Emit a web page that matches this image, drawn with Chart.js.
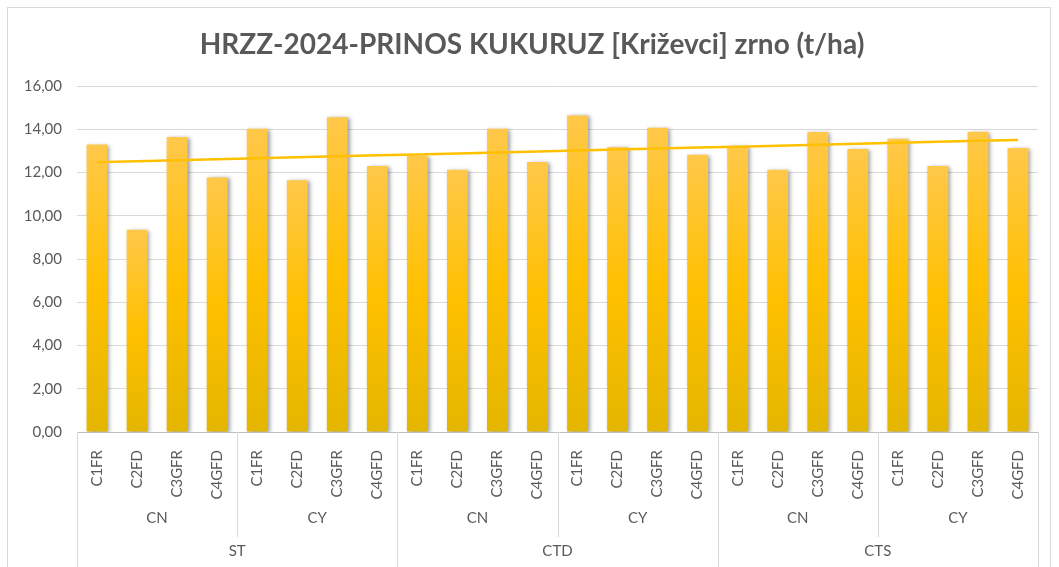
<!DOCTYPE html>
<html><head><meta charset="utf-8">
<script src="https://cdn.jsdelivr.net/npm/chart.js@4.4.1/dist/chart.umd.min.js"></script>
<style>
html,body{margin:0;padding:0;background:#fff;overflow:hidden;}
#wrap{position:relative;width:1059px;height:567px;}
#frame{position:absolute;left:7px;top:7px;width:1044px;height:640px;border:1px solid #d9d9d9;box-sizing:border-box;}
#c{position:absolute;left:0;top:0;}
</style></head><body>
<div id="wrap"><div id="frame"></div><canvas id="c" width="1059" height="567"></canvas></div>
<script>
const chartTitle = 'HRZZ-2024-PRINOS KUKURUZ [Križevci] zrno (t/ha)';
const categories = ['C1FR','C2FD','C3GFR','C4GFD','C1FR','C2FD','C3GFR','C4GFD',
                    'C1FR','C2FD','C3GFR','C4GFD','C1FR','C2FD','C3GFR','C4GFD',
                    'C1FR','C2FD','C3GFR','C4GFD','C1FR','C2FD','C3GFR','C4GFD'];
const level2Labels = ['CN','CY','CN','CY','CN','CY'];
const level3Labels = ['ST','CTD','CTS'];
const yields = [13.29, 9.35, 13.64, 11.77, 14.02, 11.64, 14.56, 12.30,
                12.77, 12.13, 14.02, 12.48, 14.64, 13.17, 14.07, 12.82,
                13.22, 12.13, 13.87, 13.09, 13.56, 12.30, 13.89, 13.13];
const yTicks = [0, 2, 4, 6, 8, 10, 12, 14, 16];

// linear trendline (least squares over the bar values, as in the source chart)
const n = yields.length;
const xMean = (n + 1) / 2;
const yMean = yields.reduce((a, b) => a + b, 0) / n;
let sxy = 0, sxx = 0;
yields.forEach((v, i) => { const dx = (i + 1) - xMean; sxy += dx * (v - yMean); sxx += dx * dx; });
const slope = sxy / sxx;
const trend = yields.map((v, i) => yMean + slope * ((i + 1) - xMean));

const TEXT = '#595959';
const FONT = 'Lato, "Open Sans", sans-serif';

const shadowPlugin = {
  id: 'barShadow',
  beforeDatasetDraw(chart, args) {
    if (chart.data.datasets[args.index].type !== 'bar') return;
    const ctx = chart.ctx; ctx.save();
    ctx.shadowColor = 'rgba(0,0,0,0.38)'; ctx.shadowBlur = 4;
    ctx.shadowOffsetX = 2; ctx.shadowOffsetY = 1;
  },
  afterDatasetDraw(chart, args) {
    if (chart.data.datasets[args.index].type !== 'bar') return;
    chart.ctx.restore();
  }
};

const decorPlugin = {
  id: 'decor',
  afterDraw(chart) {
    const ctx = chart.ctx, xs = chart.scales.x, area = chart.chartArea;
    const H = chart.height;
    const catW = (xs.right - xs.left) / categories.length;
    ctx.save();
    // title
    ctx.fillStyle = TEXT; ctx.textAlign = 'center'; ctx.textBaseline = 'middle';
    ctx.font = 'bold 28px ' + FONT;
    ctx.fillText(chartTitle, 532, 45);
    // axis line
    ctx.strokeStyle = '#bfbfbf'; ctx.lineWidth = 1;
    ctx.beginPath(); ctx.moveTo(area.left, Math.round(area.bottom) + 0.5);
    ctx.lineTo(area.right, Math.round(area.bottom) + 0.5); ctx.stroke();
    // separators
    ctx.strokeStyle = '#d9d9d9';
    for (let i = 0; i <= level2Labels.length; i++) {
      const x = Math.round(xs.left + i * 4 * catW) + 0.5;
      const yEnd = (i % 2 === 0) ? H : 537;
      ctx.beginPath(); ctx.moveTo(x, area.bottom); ctx.lineTo(x, yEnd); ctx.stroke();
    }
    // group labels
    ctx.font = '15px ' + FONT; ctx.fillStyle = TEXT;
    level2Labels.forEach((lab, i) => {
      ctx.fillText(lab, xs.left + (i * 4 + 2) * catW, 518);
    });
    level3Labels.forEach((lab, i) => {
      ctx.fillText(lab, xs.left + (i * 8 + 4) * catW, 551);
    });
    ctx.restore();
  }
};

new Chart(document.getElementById('c'), {
  data: {
    labels: categories,
    datasets: [
      {
        type: 'line', data: trend, order: 0,
        borderColor: '#FFC000', borderWidth: 2.5, pointRadius: 0, fill: false, tension: 0
      },
      {
        type: 'bar', data: yields, order: 1,
        barPercentage: 0.52, categoryPercentage: 1,
        backgroundColor: (c) => {
          const chart = c.chart;
          if (!chart.chartArea || c.type !== 'data') return '#FFC000';
          const ys = chart.scales.y;
          const top = ys.getPixelForValue(c.raw), bot = ys.getPixelForValue(0);
          const g = chart.ctx.createLinearGradient(0, top, 0, bot);
          g.addColorStop(0, '#FFC84A'); g.addColorStop(0.5, '#FFC000'); g.addColorStop(1, '#E4B600');
          return g;
        }
      }
    ]
  },
  options: {
    responsive: false, animation: false,
    layout: { padding: { top: 86, right: 21, bottom: 0, left: 0 } },
    plugins: { legend: { display: false }, tooltip: { enabled: false }, title: { display: false } },
    scales: {
      x: {
        grid: { display: false }, border: { display: false },
        ticks: { autoSkip: false, minRotation: 90, maxRotation: 90, padding: 10,
                 color: TEXT, font: { family: FONT, size: 15 } },
        afterFit(s) { s.height = 135; }
      },
      y: {
        min: 0, max: 16,
        afterBuildTicks(s) { s.ticks = yTicks.map(v => ({ value: v })); },
        grid: { color: '#d9d9d9', drawTicks: false }, border: { display: false },
        ticks: { padding: 15, color: TEXT, font: { family: FONT, size: 15 },
                 callback: (v) => Number(v).toFixed(2).replace('.', ',') },
        afterFit(s) { s.width = 77; }
      }
    }
  },
  plugins: [shadowPlugin, decorPlugin]
});
</script>
</body></html>
